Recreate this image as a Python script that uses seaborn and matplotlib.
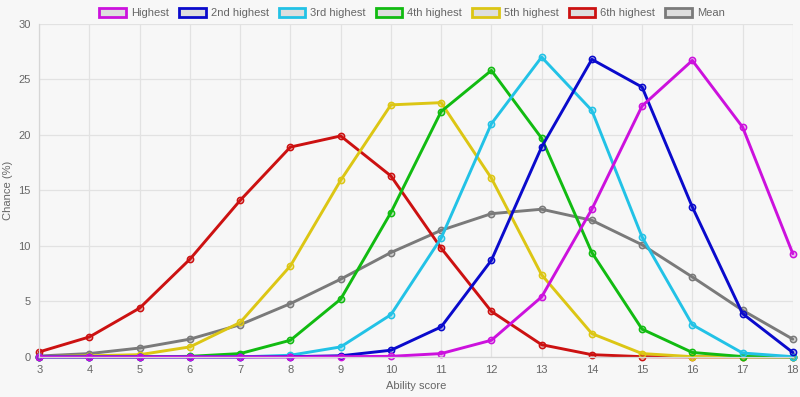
import numpy as np
import pandas as pd
import seaborn as sns
import matplotlib.pyplot as plt
from matplotlib.patches import Patch

scores = list(range(3, 19))
series_names = ["Highest", "2nd highest", "3rd highest", "4th highest",
                "5th highest", "6th highest", "Mean"]
colors = ["#cc11dd", "#0a0acc", "#22c2e6", "#11bb11", "#dcc614", "#cc1111", "#7a7a7a"]

highest = [0, 0, 0, 0, 0, 0, 0.02, 0.05, 0.3, 1.5, 5.4, 13.3, 22.6, 26.7, 20.7, 9.3]
second = [0, 0, 0, 0, 0, 0.02, 0.1, 0.6, 2.7, 8.7, 18.9, 26.8, 24.3, 13.5, 3.9, 0.4]
third = [0, 0, 0, 0, 0, 0.15, 0.9, 3.8, 10.7, 21.0, 27.0, 22.2, 10.8, 2.9, 0.35, 0.02]
fourth = [0, 0, 0, 0.05, 0.3, 1.5, 5.2, 13.0, 22.1, 25.8, 19.7, 9.4, 2.5, 0.4, 0.03, 0]
fifth = [0.02, 0.1, 0.2, 0.9, 3.1, 8.2, 15.9, 22.7, 22.9, 16.1, 7.4, 2.1, 0.3, 0.02, 0, 0]
sixth = [0.45, 1.8, 4.4, 8.8, 14.1, 18.9, 19.9, 16.3, 9.8, 4.1, 1.1, 0.2, 0.02, 0, 0, 0]
mean = [0.08, 0.3, 0.8, 1.6, 2.9, 4.8, 7.0, 9.4, 11.4, 12.9, 13.3, 12.3, 10.1, 7.2, 4.2, 1.6]

values = [highest, second, third, fourth, fifth, sixth, mean]

rows = []
for name, vals in zip(series_names, values):
    for s, v in zip(scores, vals):
        rows.append({"score": s, "chance": v, "series": name})
df = pd.DataFrame(rows)

sns.set_theme(style="white")
plt.rcParams["font.family"] = ["Liberation Sans", "DejaVu Sans"]

bg = "#f7f7f7"
fig = plt.figure(figsize=(8, 3.97), dpi=100, facecolor=bg)
ax = fig.add_axes([0.049, 0.101, 0.942, 0.839], facecolor=bg)

palette = dict(zip(series_names, colors))
# draw in reverse so "Highest" ends up on top
for name in reversed(series_names):
    sub = df[df["series"] == name]
    sns.lineplot(data=sub, x="score", y="chance", color=palette[name], lw=2.1,
                 marker="o", markersize=4.5, markeredgewidth=1.1,
                 markeredgecolor=palette[name], markerfacecolor=palette[name] + "44",
                 clip_on=False, ax=ax, legend=False)

ax.set_xlim(3, 18)
ax.set_ylim(0, 30)
ax.set_xticks(scores)
ax.set_yticks(range(0, 31, 5))
ax.grid(True, color="#e2e2e2", lw=0.9)
ax.set_axisbelow(True)
for side in ["top", "right"]:
    ax.spines[side].set_visible(False)
for side in ["left", "bottom"]:
    ax.spines[side].set_color("#d6d6d6")
    ax.spines[side].set_linewidth(0.9)
ax.tick_params(axis="both", colors="#666666", labelsize=8, length=0, pad=6)
ax.set_xlabel("Ability score", color="#666666", fontsize=8, labelpad=4)
ax.set_ylabel("Chance (%)", color="#666666", fontsize=8, labelpad=4)

handles = [Patch(facecolor="#dedede", edgecolor=c, linewidth=2) for c in colors]
fig.legend(handles, series_names, loc="upper center", bbox_to_anchor=(0.515, 1.005),
           ncol=7, frameon=False, fontsize=8, handlelength=2.4, handleheight=0.9,
           handletextpad=0.45, columnspacing=0.9, labelcolor="#666666")

fig.savefig("out.png", dpi=100, facecolor=bg)
